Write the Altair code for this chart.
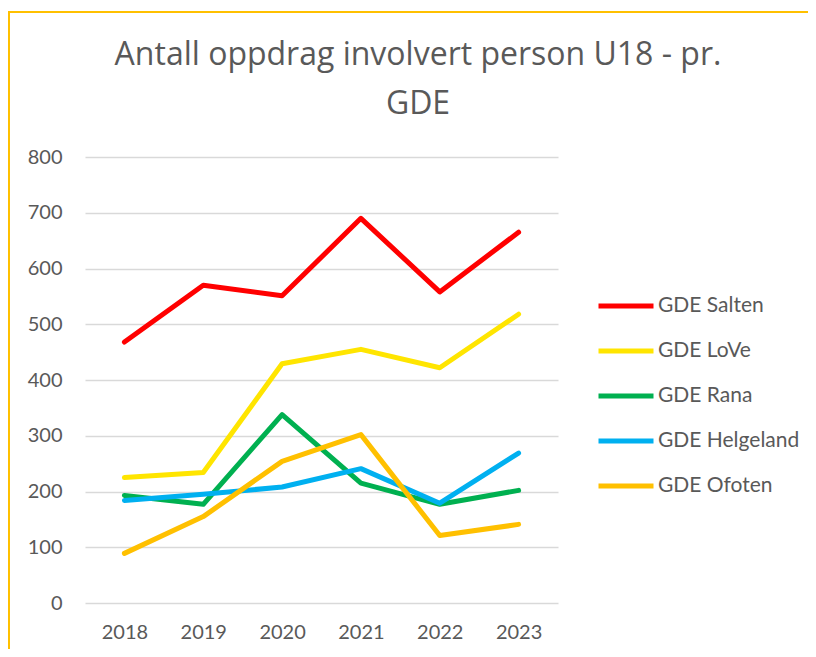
import altair as alt
import pandas as pd

title_lines = ["Antall oppdrag involvert person U18 - pr.", "GDE"]
years = ["2018", "2019", "2020", "2021", "2022", "2023"]
series_names = ["GDE Salten", "GDE LoVe", "GDE Rana", "GDE Helgeland", "GDE Ofoten"]
salten = [468, 570, 551, 690, 558, 665]
love = [225, 234, 429, 455, 422, 518]
rana = [193, 177, 338, 215, 177, 202]
helgeland = [184, 195, 208, 241, 179, 269]
ofoten = [89, 155, 254, 302, 121, 141]
colors = ["#FF0000", "#FFE500", "#00B050", "#00B0F0", "#FFC000"]
y_ticks = [0, 100, 200, 300, 400, 500, 600, 700, 800]

rows = []
for name, vals in zip(series_names, [salten, love, rana, helgeland, ofoten]):
    for yr, v in zip(years, vals):
        rows.append({"År": yr, "Antall": v, "GDE": name})
df = pd.DataFrame(rows)

FONT = "Lato"
GRAY = "#595959"

lines = alt.Chart(df).mark_line(strokeWidth=5, strokeCap="round", strokeJoin="round").encode(
    x=alt.X("År:N", sort=years, scale=alt.Scale(type="point", padding=0.5),
            axis=alt.Axis(title=None, labelAngle=0, ticks=False, domain=False, grid=False,
                          labelFontSize=20, labelColor=GRAY, labelFont=FONT, labelPadding=19)),
    y=alt.Y("Antall:Q", scale=alt.Scale(domain=[0, 800], nice=False),
            axis=alt.Axis(title=None, values=y_ticks, ticks=False, domain=False,
                          gridColor="#D9D9D9", gridWidth=1.3,
                          labelFontSize=20, labelColor=GRAY, labelFont=FONT, labelPadding=23)),
    color=alt.Color("GDE:N", scale=alt.Scale(domain=series_names, range=colors),
                    legend=alt.Legend(title=None, orient="none", legendX=511, legendY=119,
                                      symbolType="stroke", symbolSize=3025, symbolStrokeWidth=5,
                                      labelFontSize=21, labelColor=GRAY, labelFont=FONT,
                                      labelOffset=2, rowPadding=5, padding=0)),
)

one = pd.DataFrame({"f": [0]})
frame = alt.Chart(one).mark_rect(
    fillOpacity=0, stroke="#FFC000", strokeWidth=2
).encode(x=alt.value(-76), x2=alt.value(800), y=alt.value(-145), y2=alt.value(700))

title = alt.Chart(one).mark_text(
    text=title_lines, font="Open Sans", fontSize=32, color=GRAY, lineHeight=49,
    baseline="alphabetic", align="center",
).encode(x=alt.value(333), y=alt.value(-92))

chart = alt.layer(frame, title, lines).properties(
    width=473, height=446,
    padding={"left": 77, "top": 149, "right": 250, "bottom": 46},
    autosize=alt.AutoSizeParams(type="none"),
    background="white",
).configure_view(stroke=None)

chart.save("out.html", embed_options={"renderer": "svg", "actions": False})
